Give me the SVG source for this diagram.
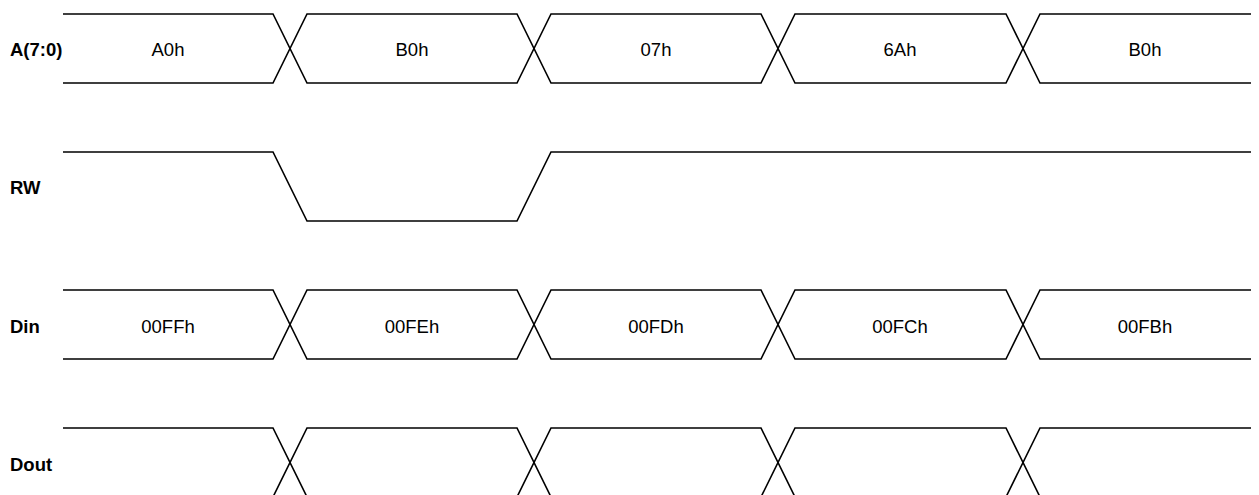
<svg xmlns="http://www.w3.org/2000/svg" width="1259" height="495" viewBox="0 0 1259 495">
<style>
.w{fill:none;stroke:#000;stroke-width:1.6;stroke-linejoin:miter}
.lbl{font-family:"Liberation Sans",Arial,sans-serif;font-size:18.5px;font-weight:bold;fill:#000}
.v{font-family:"Liberation Sans",Arial,sans-serif;font-size:18.5px;fill:#000;text-anchor:middle}
</style>
<rect width="1259" height="495" fill="#fff"/>
<g id="sig-A">
<text class="lbl" x="10" y="56">A(7:0)</text>
<polyline class="w" points="63,14 273,14 307,83 517,83 551,14 761,14 795,83 1006,83 1040,14 1251,14"/>
<polyline class="w" points="63,83 273,83 307,14 517,14 551,83 761,83 795,14 1006,14 1040,83 1251,83"/>
<text class="v" x="168" y="56">A0h</text>
<text class="v" x="412" y="56">B0h</text>
<text class="v" x="656" y="56">07h</text>
<text class="v" x="900" y="56">6Ah</text>
<text class="v" x="1145" y="56">B0h</text>
</g>
<g id="sig-RW">
<text class="lbl" x="10" y="194">RW</text>
<polyline class="w" points="63,152 273,152 307,221 517,221 551,152 1251,152"/>
</g>
<g id="sig-Din">
<text class="lbl" x="10" y="333">Din</text>
<polyline class="w" points="63,290 273,290 307,359 517,359 551,290 761,290 795,359 1006,359 1040,290 1251,290"/>
<polyline class="w" points="63,359 273,359 307,290 517,290 551,359 761,359 795,290 1006,290 1040,359 1251,359"/>
<text class="v" x="168" y="333">00FFh</text>
<text class="v" x="412" y="333">00FEh</text>
<text class="v" x="656" y="333">00FDh</text>
<text class="v" x="900" y="333">00FCh</text>
<text class="v" x="1145" y="333">00FBh</text>
</g>
<g id="sig-Dout">
<text class="lbl" x="10" y="471">Dout</text>
<polyline class="w" points="63,428 273,428 307,497 517,497 551,428 761,428 795,497 1006,497 1040,428 1251,428"/>
<polyline class="w" points="273,497 307,428 517,428 551,497 761,497 795,428 1006,428 1040,497"/>
</g>
<g id="connectors"/>
</svg>
